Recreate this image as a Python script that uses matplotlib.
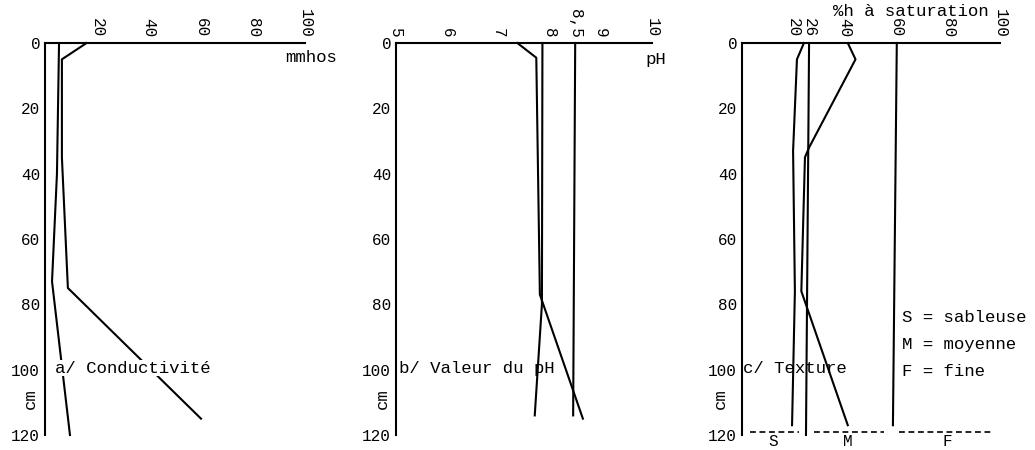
import matplotlib
matplotlib.use("Agg")
import matplotlib.pyplot as plt

# a/ Conductivité (depth in cm, value in mmhos)
cond_depth_1 = [0, 40, 73, 120]
cond_1 = [5.4, 4.6, 2.7, 9.6]
cond_depth_2 = [0, 5, 35, 75, 115]
cond_2 = [16, 6.5, 6.5, 8.8, 60]

# b/ Valeur du pH
ph_depth_1 = [0, 4.5, 77, 115]
ph_1 = [7.37, 7.74, 7.81, 8.65]
ph_depth_2 = [0, 80, 114]
ph_2 = [7.86, 7.85, 7.71]
ph_ref_depth = [0, 114]
ph_ref = [8.5, 8.46]

# c/ Texture (%h à saturation)
tex_depth_1 = [0, 5, 33, 76, 117]
tex_1 = [24, 21.3, 19.8, 20.5, 19.4]
tex_depth_2 = [0, 5, 32, 35, 76, 117]
tex_2 = [41, 44, 26, 24.4, 23, 41]
tex_ref_depth = [0, 120]
tex_ref_26 = [26, 24.8]
tex_ref_60 = [60, 58.5]
tex_class_bounds = [(3, 22), (28, 55), (61, 97)]
tex_class_labels = ["S", "M", "F"]
tex_class_pos = [12, 41, 79.5]

depth_ticks = [0, 20, 40, 60, 80, 100, 120]
cond_ticks = [20, 40, 60, 80, 100]
ph_ticks = [5, 6, 7, 8, 8.5, 9, 10]
ph_labels = ["5", "6", "7", "8", "8,5", "9", "10"]
tex_ticks = [20, 26, 40, 60, 80, 100]

plt.rcParams["font.family"] = ["Liberation Mono", "DejaVu Sans Mono"]
LW = 1.5
TXT = 12.5
TCK = 11.5

fig = plt.figure(figsize=(10.35, 4.5), dpi=100)
W, H = 1035, 450


def make_axes(x0, x1, y0, y1):
    ax = fig.add_axes([x0 / W, 1 - y1 / H, (x1 - x0) / W, (y1 - y0) / H])
    ax.set_facecolor("none")
    for s in ["right", "bottom"]:
        ax.spines[s].set_visible(False)
    for s in ["left", "top"]:
        ax.spines[s].set_linewidth(LW)
    ax.xaxis.tick_top()
    ax.tick_params(axis="x", length=0, pad=4, labelsize=TCK, labelrotation=-90)
    ax.tick_params(axis="y", length=0, pad=3.5, labelsize=TCK)
    ax.set_yticks(depth_ticks)
    ax.set_yticklabels([str(d) for d in depth_ticks])
    return ax


# panel a
ax1 = make_axes(45, 305, 43, 435)
ax1.set_xlim(0, 100)
ax1.set_ylim(120, 0)
ax1.set_xticks(cond_ticks)
ax1.plot(cond_1, cond_depth_1, color="black", lw=LW, clip_on=False)
ax1.plot(cond_2, cond_depth_2, color="black", lw=LW, clip_on=False)
ax1.text(3.8, 99.5, "a/ Conductivité", fontsize=TXT, va="center", ha="left",
         bbox=dict(facecolor="white", edgecolor="none", pad=0.5))
ax1.text(92.3, 4.3, "mmhos", fontsize=TXT, va="center", ha="left", clip_on=False)
ax1.text(-5.8, 109, "cm", fontsize=TXT, rotation=90, va="center", ha="center")

# panel b
ax2 = make_axes(396, 652, 43, 435)
ax2.set_xlim(5, 10)
ax2.set_ylim(120, 0)
ax2.set_xticks(ph_ticks)
ax2.set_xticklabels(ph_labels)
ax2.plot(ph_1, ph_depth_1, color="black", lw=LW, clip_on=False)
ax2.plot(ph_2, ph_depth_2, color="black", lw=LW, clip_on=False)
ax2.plot(ph_ref, ph_ref_depth, color="black", lw=LW, clip_on=False)
ax2.text(5.06, 99.5, "b/ Valeur du pH", fontsize=TXT, va="center", ha="left")
ax2.text(9.88, 5.2, "pH", fontsize=TXT, va="center", ha="left", clip_on=False)
ax2.text(4.73, 109, "cm", fontsize=TXT, rotation=90, va="center", ha="center")

# panel c
ax3 = make_axes(742, 1000, 43, 435)
ax3.set_xlim(0, 100)
ax3.set_ylim(120, 0)
ax3.set_xticks(tex_ticks)
ax3.plot(tex_1, tex_depth_1, color="black", lw=LW, clip_on=False)
ax3.plot(tex_2, tex_depth_2, color="black", lw=LW, clip_on=False)
ax3.plot(tex_ref_26, tex_ref_depth, color="black", lw=LW, clip_on=False)
ax3.plot(tex_ref_60, [0, 117], color="black", lw=LW, clip_on=False)
for lo, hi in tex_class_bounds:
    ax3.plot([lo, hi], [119, 119], color="black", lw=1.2, ls=(0, (3.5, 2.2)), clip_on=False)
for lab, xp in zip(tex_class_labels, tex_class_pos):
    ax3.text(xp, 119.8, lab, fontsize=TXT - 1, va="top", ha="center", clip_on=False)
ax3.text(0.4, 99.5, "c/ Texture", fontsize=TXT, va="center", ha="left")
ax3.text(62, 84, "S = sableuse", fontsize=TXT, va="center", ha="left")
ax3.text(62, 92.4, "M = moyenne", fontsize=TXT, va="center", ha="left")
ax3.text(62, 100.7, "F = fine", fontsize=TXT, va="center", ha="left")
ax3.text(35.3, -9.5, "%h à saturation", fontsize=TXT, va="center", ha="left", clip_on=False)
ax3.text(-8.5, 109, "cm", fontsize=TXT, rotation=90, va="center", ha="center")

fig.savefig("out.png", dpi=100)
